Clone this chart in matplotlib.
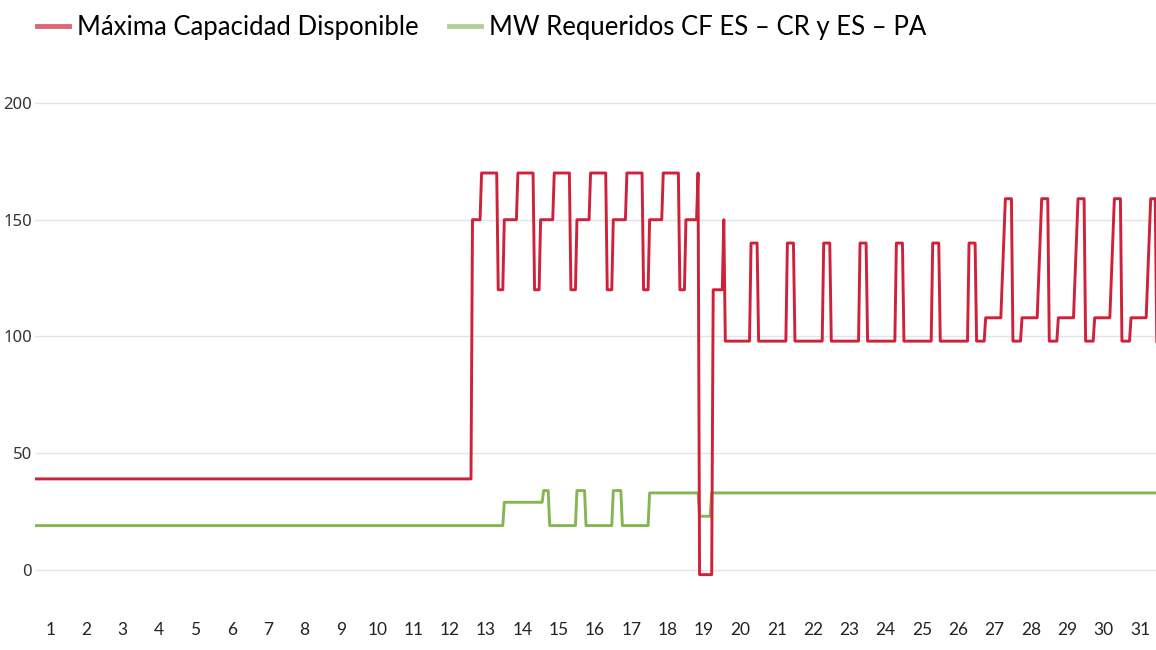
import numpy as np
import matplotlib.pyplot as plt
from matplotlib.lines import Line2D

# eje x en horas del mes (0..743); una etiqueta por día en el centro del día
dias = [str(d) for d in range(1, 32)]
y_ticks = [0, 50, 100, 150, 200]

# Máxima Capacidad Disponible: vértices (hora, MW)
cap_horas = [
    0, 290,                                   # días 1-12
    291, 296, 297, 307, 308, 311,             # 13
    312, 320, 321, 331, 332, 335,             # 14
    336, 344, 345, 355, 356, 359,             # 15
    360, 368, 369, 379, 380, 383,             # 16
    384, 392, 393, 403, 404, 407,             # 17
    408, 416, 417, 427, 428, 431,             # 18
    432, 439, 440, 441, 449, 450, 456, 457,   # 19
    458, 474, 475, 479,                       # 20
    480, 498, 499, 503,                       # 21
    504, 522, 523, 527,                       # 22
    528, 546, 547, 551,                       # 23
    552, 570, 571, 575,                       # 24
    576, 594, 595, 599,                       # 25
    600, 618, 619, 623,                       # 26
    624, 629, 630, 640, 643, 647,             # 27
    648, 653, 654, 664, 667, 671,             # 28
    672, 677, 678, 688, 691, 695,             # 29
    696, 701, 702, 712, 715, 719,             # 30
    720, 725, 726, 736, 739, 742, 743,        # 31
]
cap_mw = [
    39, 39,
    150, 150, 170, 170, 120, 120,
    150, 150, 170, 170, 120, 120,
    150, 150, 170, 170, 120, 120,
    150, 150, 170, 170, 120, 120,
    150, 150, 170, 170, 120, 120,
    150, 150, 170, 170, 120, 120,
    150, 150, 170, -2, -2, 120, 120, 150,
    98, 98, 140, 140,
    98, 98, 140, 140,
    98, 98, 140, 140,
    98, 98, 140, 140,
    98, 98, 140, 140,
    98, 98, 140, 140,
    98, 98, 140, 140,
    98, 98, 108, 108, 159, 159,
    98, 98, 108, 108, 159, 159,
    98, 98, 108, 108, 159, 159,
    98, 98, 108, 108, 159, 159,
    98, 98, 108, 108, 159, 159, 98,
]

# MW Requeridos CF ES – CR y ES – PA
req_horas = [0, 311, 312, 337, 338, 341, 342, 359, 360, 365, 366, 383,
             384, 389, 390, 407, 408, 440, 441, 448, 449, 743]
req_mw = [19, 19, 29, 29, 34, 34, 19, 19, 34, 34, 19, 19,
          34, 34, 19, 19, 33, 33, 23, 23, 33, 33]

rojo = '#cf2139'
verde = '#86b652'

fig = plt.figure(figsize=(11.56, 6.5), dpi=100)
ax = fig.add_axes([35/1156, 1 - 605/650, 1121/1156, 525.4/650])

ax.plot(req_horas, req_mw, color=verde, lw=2.1, zorder=3)
ax.plot(cap_horas, cap_mw, color=rojo, lw=2.1, zorder=4)

ax.set_xlim(2, 742.5)
ax.set_ylim(-15, 210)
ax.set_yticks(y_ticks)
ax.set_xticks([12 + 24*i for i in range(len(dias))])
ax.set_xticklabels(dias)
ax.yaxis.grid(True, color='#e4e2ef', lw=1)
ax.set_axisbelow(True)
for s in ax.spines.values():
    s.set_visible(False)
ax.tick_params(axis='y', length=0, pad=2, labelsize=12, labelcolor='#333333')
ax.tick_params(axis='x', length=0, pad=12, labelsize=12.5, labelcolor='#222222')
for t in ax.get_yticklabels():
    t.set_family(['Noto Sans', 'DejaVu Sans'])
for t in ax.get_xticklabels():
    t.set_family(['Lato', 'DejaVu Sans'])

handles = [Line2D([], [], color='#e06574', lw=3.5),
           Line2D([], [], color='#b3cf99', lw=3.5)]
fig.legend(handles, ['Máxima Capacidad Disponible',
                     'MW Requeridos CF ES – CR y ES – PA'],
           loc='upper left', bbox_to_anchor=(0.012, 1.012), ncol=2,
           frameon=False, handlelength=1.25, handletextpad=0.3,
           columnspacing=1.2,
           prop={'family': ['Lato', 'DejaVu Sans'], 'size': 18.5})

fig.savefig('out.png', dpi=100, facecolor='white')
